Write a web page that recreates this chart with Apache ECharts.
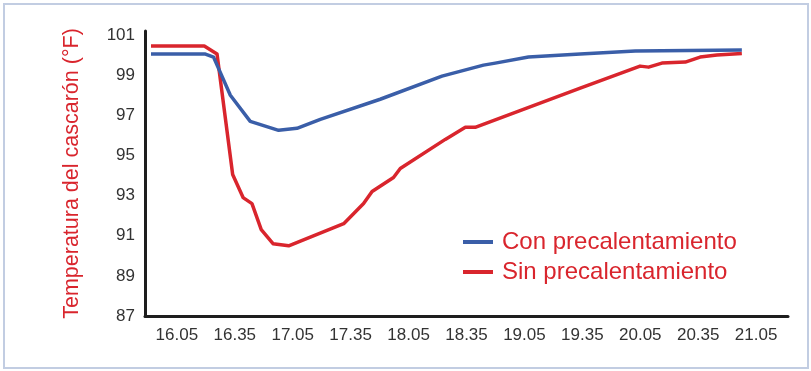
<!DOCTYPE html>
<html>
<head>
<meta charset="utf-8">
<script src="https://cdn.jsdelivr.net/npm/echarts@6/dist/echarts.min.js"></script>
<style>
  html, body { margin: 0; padding: 0; background: #ffffff; }
  #chart { width: 811px; height: 371px; }
</style>
</head>
<body>
<div id="chart"></div>
<script>
// x values are minutes after 16.05
const xTickValues = [0, 30, 60, 90, 120, 150, 180, 210, 240, 270, 300];
const xTickLabels = ['16.05', '16.35', '17.05', '17.35', '18.05', '18.35', '19.05', '19.35', '20.05', '20.35', '21.05'];
const yTickValues = [87, 89, 91, 93, 95, 97, 99, 101];

const conMinutes = [-13.4, 14.8, 19.0, 27.7, 38.0, 52.7, 62.2, 74.3, 105.3, 137.3, 158.8, 164.9, 182.1, 208.9, 237.4, 292.6];
const conTemps   = [100.05, 100.05, 99.9, 98.0, 96.7, 96.25, 96.35, 96.8, 97.8, 98.95, 99.5, 99.6, 99.9, 100.05, 100.2, 100.25];

const sinMinutes = [-13.4, 14.2, 20.8, 28.9, 34.3, 38.9, 43.7, 49.8, 57.9, 86.4, 96.7, 101.1, 112.2, 115.7, 139.0, 149.4, 154.5, 208.9, 239.9, 244.3, 251.2, 263.3, 271.0, 279.7, 292.6];
const sinTemps   = [100.45, 100.45, 100.05, 94.05, 92.9, 92.6, 91.3, 90.6, 90.5, 91.6, 92.6, 93.2, 93.9, 94.35, 95.8, 96.4, 96.4, 98.35, 99.45, 99.4, 99.6, 99.65, 99.9, 100.0, 100.08];

const seriesNames = ['Con precalentamiento', 'Sin precalentamiento'];
const yTitle = 'Temperatura del cascarón (°F)';

const BLUE = '#3a5ea8';
const RED = '#d9252d';
const FONT = '"Liberation Sans", Arial, Helvetica, sans-serif';

function zip(xs, ys) { return xs.map((x, i) => [x, ys[i]]); }

const chart = echarts.init(document.getElementById('chart'), null, { renderer: 'canvas' });
chart.setOption({
  animation: false,
  backgroundColor: '#ffffff',
  graphic: [{
    type: 'rect',
    shape: { x: 4, y: 4, width: 804, height: 364 },
    style: { fill: 'none', stroke: '#c2cde2', lineWidth: 2 },
    silent: true,
    z: -1
  }],
  grid: { left: 145, right: 23, top: 31, bottom: 55, containLabel: false },
  legend: {
    orient: 'vertical',
    left: 463,
    top: 230,
    padding: 0,
    itemWidth: 30,
    itemHeight: 4,
    itemGap: 6,
    icon: 'rect',
    textStyle: { color: RED, fontSize: 24, fontFamily: FONT, padding: [0, 0, 0, 4] },
    data: seriesNames
  },
  xAxis: {
    type: 'value',
    min: -16.5,
    max: 316.5,
    axisLine: { show: true, onZero: false, lineStyle: { color: '#1e1e1e', width: 3 } },
    axisTick: { show: false },
    splitLine: { show: false },
    axisLabel: {
      customValues: xTickValues,
      formatter: function (v) {
        const i = xTickValues.indexOf(v);
        return i >= 0 ? xTickLabels[i] : '';
      },
      color: '#333333',
      fontSize: 17,
      fontFamily: FONT,
      margin: 11
    }
  },
  yAxis: {
    type: 'value',
    min: 87,
    max: 101.2,
    name: yTitle,
    nameLocation: 'middle',
    nameGap: 62,
    nameTextStyle: { color: RED, fontSize: 21.5, fontFamily: FONT },
    axisLine: { show: true, onZero: false, lineStyle: { color: '#1e1e1e', width: 3 } },
    axisTick: { show: false },
    splitLine: { show: false },
    axisLabel: {
      customValues: yTickValues,
      color: '#333333',
      fontSize: 17,
      fontFamily: FONT,
      margin: 10
    }
  },
  series: [
    {
      name: seriesNames[0],
      type: 'line',
      data: zip(conMinutes, conTemps),
      showSymbol: false,
      symbol: 'none',
      lineStyle: { color: BLUE, width: 3.5, join: 'round' },
      itemStyle: { color: BLUE },
      z: 3
    },
    {
      name: seriesNames[1],
      type: 'line',
      data: zip(sinMinutes, sinTemps),
      showSymbol: false,
      symbol: 'none',
      lineStyle: { color: RED, width: 3.5, join: 'round' },
      itemStyle: { color: RED },
      z: 2
    }
  ]
});
</script>
</body>
</html>
